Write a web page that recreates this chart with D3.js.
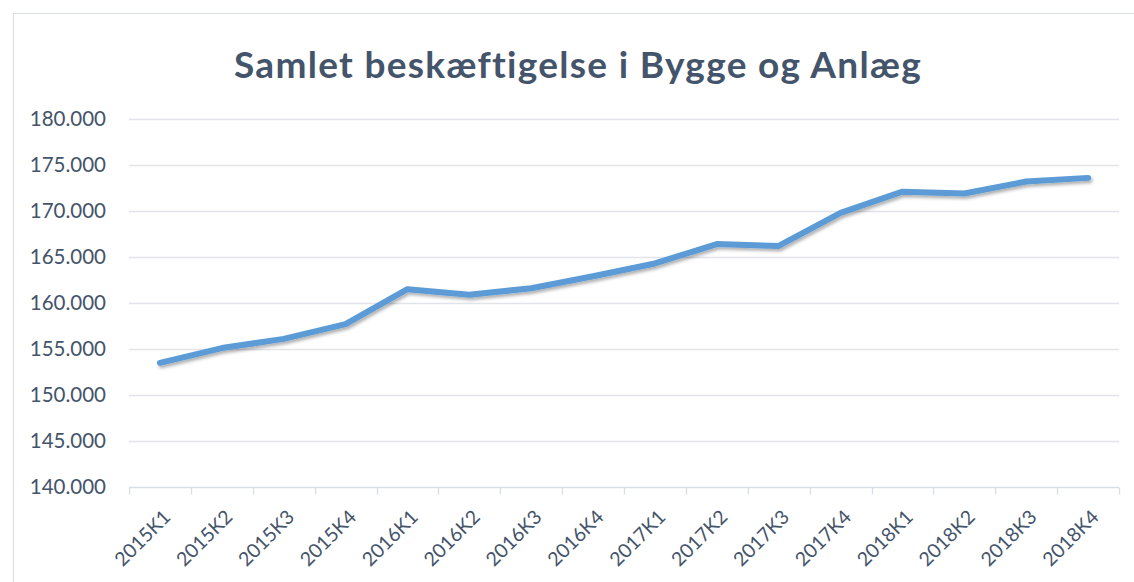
<!DOCTYPE html>
<html>
<head>
<meta charset="utf-8">
<script src="https://cdn.jsdelivr.net/npm/d3@7"></script>
<style>
  body { margin: 0; background: #fff; }
  svg { display: block; font-family: Lato, "Open Sans", sans-serif; }
</style>
</head>
<body>
<svg id="chart" width="1134" height="582"></svg>
<script>
const quarters = ["2015K1","2015K2","2015K3","2015K4","2016K1","2016K2","2016K3","2016K4",
  "2017K1","2017K2","2017K3","2017K4","2018K1","2018K2","2018K3","2018K4"];
const employment = [153500, 155100, 156100, 157700, 161500, 160900, 161600, 162900,
  164300, 166400, 166200, 169800, 172100, 171900, 173200, 173600];
const yTicks = [140000, 145000, 150000, 155000, 160000, 165000, 170000, 175000, 180000];
const title = "Samlet beskæftigelse i Bygge og Anlæg";

const svg = d3.select("#chart");
const width = 1134, height = 582;
const margin = { top: 119, right: 15, bottom: 95, left: 129 };
const textColor = "#44546A";

const da = d3.formatLocale({ decimal: ",", thousands: ".", grouping: [3], currency: ["", " kr."] });
const fmt = da.format(",.0f");

// chart frame
svg.append("rect")
  .attr("x", 13.5).attr("y", 13.5)
  .attr("width", width + 20).attr("height", height + 20)
  .attr("fill", "none").attr("stroke", "#D9DEE6").attr("stroke-width", 1);

const x = d3.scaleBand()
  .domain(quarters)
  .range([margin.left, width - margin.right]);

const y = d3.scaleLinear()
  .domain([140000, 180000])
  .range([height - margin.bottom, margin.top]);

// gridlines
svg.append("g")
  .selectAll("line")
  .data(yTicks.slice(1))
  .join("line")
  .attr("x1", margin.left).attr("x2", width - margin.right)
  .attr("y1", d => Math.round(y(d)) + 0.5).attr("y2", d => Math.round(y(d)) + 0.5)
  .attr("stroke", "#E1E4EA").attr("stroke-width", 1.3);

// y labels
svg.append("g")
  .selectAll("text")
  .data(yTicks)
  .join("text")
  .attr("x", 106)
  .attr("y", d => y(d))
  .attr("dy", "0.35em")
  .attr("text-anchor", "end")
  .attr("fill", textColor)
  .style("font-size", "20.5px")
  .text(d => fmt(d));

// x axis
const xAxis = svg.append("g")
  .attr("transform", `translate(0,${Math.round(y(140000)) + 0.5})`);
xAxis.append("line")
  .attr("x1", margin.left).attr("x2", width - margin.right)
  .attr("stroke", "#D9DEE6").attr("stroke-width", 1.3);
xAxis.selectAll("line.tick")
  .data(quarters.concat(["end"]))
  .join("line")
  .attr("class", "tick")
  .attr("x1", (d, i) => Math.round(margin.left + i * x.step()) + 0.5)
  .attr("x2", (d, i) => Math.round(margin.left + i * x.step()) + 0.5)
  .attr("y1", 0).attr("y2", 7)
  .attr("stroke", "#D9DEE6").attr("stroke-width", 1.3);
xAxis.selectAll("text")
  .data(quarters)
  .join("text")
  .attr("transform", d => `translate(${x(d) + x.bandwidth() / 2 + 7},26) rotate(-45)`)
  .attr("text-anchor", "end")
  .attr("dy", "0.35em")
  .attr("fill", textColor)
  .style("font-size", "19.5px")
  .text(d => d);

// line with soft shadow
const defs = svg.append("defs");
const f = defs.append("filter").attr("id", "shadow")
  .attr("x", "-10%").attr("y", "-10%").attr("width", "120%").attr("height", "130%");
f.append("feDropShadow")
  .attr("dx", 1.5).attr("dy", 2.5).attr("stdDeviation", 1.8)
  .attr("flood-color", "#000").attr("flood-opacity", 0.3);

const line = d3.line()
  .x((d, i) => x(quarters[i]) + x.bandwidth() / 2)
  .y(d => y(d));

svg.append("path")
  .datum(employment)
  .attr("fill", "none")
  .attr("stroke", "#5B9BD5")
  .attr("stroke-width", 6)
  .attr("stroke-linejoin", "round")
  .attr("stroke-linecap", "round")
  .attr("filter", "url(#shadow)")
  .attr("d", line);

// title
svg.append("text")
  .attr("x", 578)
  .attr("y", 78)
  .attr("text-anchor", "middle")
  .attr("fill", textColor)
  .style("font-size", "37px")
  .style("font-weight", "bold")
  .style("letter-spacing", "1.3px")
  .text(title);
</script>
</body>
</html>
